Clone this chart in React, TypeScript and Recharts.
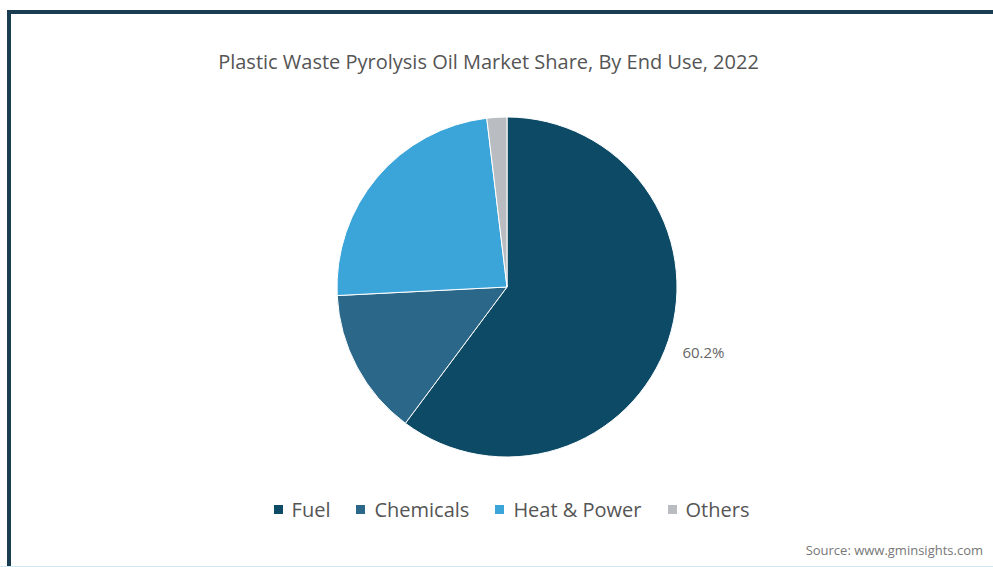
import { PieChart, Pie, Cell, Legend } from "recharts";

const segments = ["Fuel", "Chemicals", "Heat & Power", "Others"];
const shares = [60.2, 14.0, 23.9, 1.9];
const colors = ["#0c4a65", "#2b6788", "#3ba5da", "#b9bdc1"];
const labelled = ["60.2%", "", "", ""];

const data = segments.map((name, i) => ({ name, value: shares[i] }));

const FONT = "'Open Sans', sans-serif";

const renderLabel = (props: any) => {
  const { cx, cy, midAngle, outerRadius, index } = props;
  if (!labelled[index]) return null;
  const rad = Math.PI / 180;
  const r = outerRadius + 37;
  const x = cx + r * Math.cos(-midAngle * rad);
  const y = cy + r * Math.sin(-midAngle * rad);
  return (
    <text x={x} y={y} fill="#666" fontSize={15} fontFamily={FONT} textAnchor="middle" dominantBaseline="central">
      {labelled[index]}
    </text>
  );
};

const LegendBox = () => (
  <div
    style={{
      display: "flex",
      justifyContent: "center",
      gap: 26,
      paddingLeft: 30,
      fontFamily: FONT,
      fontSize: 20,
      color: "#555",
    }}
  >
    {segments.map((s, i) => (
      <div key={s} style={{ display: "flex", alignItems: "center" }}>
        <span style={{ display: "inline-block", width: 9, height: 9, background: colors[i], marginRight: 9 }} />
        <span>{s}</span>
      </div>
    ))}
  </div>
);

export default function App() {
  return (
    <div style={{ position: "fixed", left: 0, top: 0, width: 993, height: 567, background: "#fff", overflow: "hidden" }}>
      <div
        style={{
          position: "absolute",
          left: 7,
          top: 10,
          right: -10,
          bottom: 1,
          borderTop: "4px solid #1b3d51",
          borderLeft: "4px solid #1b3d51",
        }}
      />
      <div style={{ position: "absolute", left: 0, right: 0, bottom: 0, height: 1, background: "#cfe9f2" }} />
      <div
        style={{
          position: "absolute",
          top: 48,
          left: -8,
          width: 993,
          textAlign: "center",
          fontFamily: FONT,
          fontSize: 20,
          color: "#555",
        }}
      >
        Plastic Waste Pyrolysis Oil Market Share, By End Use, 2022
      </div>
      <div style={{ position: "absolute", top: 0, left: 0 }}>
        <PieChart width={993} height={567} margin={{ top: 0, right: 0, bottom: 0, left: 0 }}>
          <Pie
            data={data}
            dataKey="value"
            nameKey="name"
            cx={507}
            cy={287}
            outerRadius={170}
            startAngle={90}
            endAngle={-270}
            stroke="#fff"
            strokeWidth={1}
            label={renderLabel}
            labelLine={false}
            isAnimationActive={false}
          >
            {data.map((d, i) => (
              <Cell key={d.name} fill={colors[i]} />
            ))}
          </Pie>
          <Legend content={<LegendBox />} wrapperStyle={{ top: 496, left: 0, width: 993 }} />
        </PieChart>
      </div>
      <div
        style={{
          position: "absolute",
          top: 541,
          right: 10,
          fontFamily: FONT,
          fontSize: 13,
          color: "#777",
        }}
      >
        Source: www.gminsights.com
      </div>
    </div>
  );
}
